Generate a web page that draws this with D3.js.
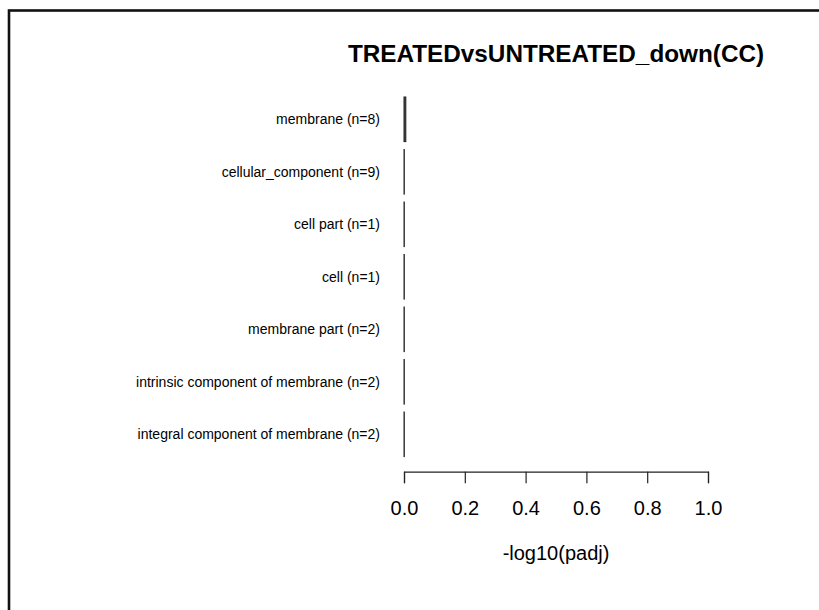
<!DOCTYPE html>
<html>
<head>
<meta charset="utf-8">
<script src="https://cdn.jsdelivr.net/npm/d3@7"></script>
<style>
  html, body { margin: 0; padding: 0; background: #fff; }
  svg { display: block; font-family: "Liberation Sans", Arial, sans-serif; }
</style>
</head>
<body>
<svg id="chart" width="819" height="610"></svg>
<script>
// GO cellular-component terms (top to bottom) and their -log10(padj)
const categories = [
  "membrane (n=8)",
  "cellular_component (n=9)",
  "cell part (n=1)",
  "cell (n=1)",
  "membrane part (n=2)",
  "intrinsic component of membrane (n=2)",
  "integral component of membrane (n=2)"
];
const values = [0.006, 0.001, 0.001, 0.001, 0.001, 0.001, 0.001];
const xTicks = [0, 0.2, 0.4, 0.6, 0.8, 1.0];
const chartTitle = "TREATEDvsUNTREATED_down(CC)";
const xTitle = "-log10(padj)";

const svg = d3.select("#chart");

// outer frame
svg.append("rect")
  .attr("x", 9).attr("y", 10.5)
  .attr("width", 900).attr("height", 700)
  .attr("fill", "none").attr("stroke", "#111").attr("stroke-width", 2.6);

const x = d3.scaleLinear().domain([0, 1]).range([404, 708]);
const y = d3.scaleBand().domain(categories)
  .range([93.06, 460.56]).paddingInner(0.15).paddingOuter(0.075);

const rows = categories.map((c, i) => ({ c, v: values[i] }));

// bars
svg.append("g").selectAll("rect").data(rows).join("rect")
  .attr("x", x(0))
  .attr("y", d => y(d.c))
  .attr("width", d => x(d.v) - x(0))
  .attr("height", y.bandwidth())
  .attr("fill", "#444")
  .attr("stroke", "#222")
  .attr("stroke-width", 1);

// category labels
svg.append("g").selectAll("text").data(rows).join("text")
  .attr("x", 380)
  .attr("y", d => y(d.c) + y.bandwidth() / 2)
  .attr("dy", "0.35em")
  .attr("text-anchor", "end")
  .attr("font-size", 14)
  .attr("fill", "#000")
  .text(d => d.c);

// x axis
const axis = svg.append("g")
  .attr("transform", "translate(0,471.7)")
  .call(d3.axisBottom(x).tickValues(xTicks).tickFormat(d3.format(".1f"))
    .tickSize(11.5).tickSizeOuter(11.5));
axis.select(".domain").attr("stroke", "#222").attr("stroke-width", 1.2);
axis.selectAll(".tick line").attr("stroke", "#222").attr("stroke-width", 1.2);
axis.selectAll(".tick text")
  .attr("y", 43.3).attr("dy", null)
  .attr("font-size", 20).attr("font-family", "Liberation Sans, Arial, sans-serif")
  .attr("fill", "#000");

// axis title
svg.append("text")
  .attr("x", 556).attr("y", 560)
  .attr("text-anchor", "middle")
  .attr("font-size", 20)
  .text(xTitle);

// chart title
svg.append("text")
  .attr("x", 556).attr("y", 62)
  .attr("text-anchor", "middle")
  .attr("font-size", 24.3).attr("font-weight", "bold")
  .text(chartTitle);
</script>
</body>
</html>
